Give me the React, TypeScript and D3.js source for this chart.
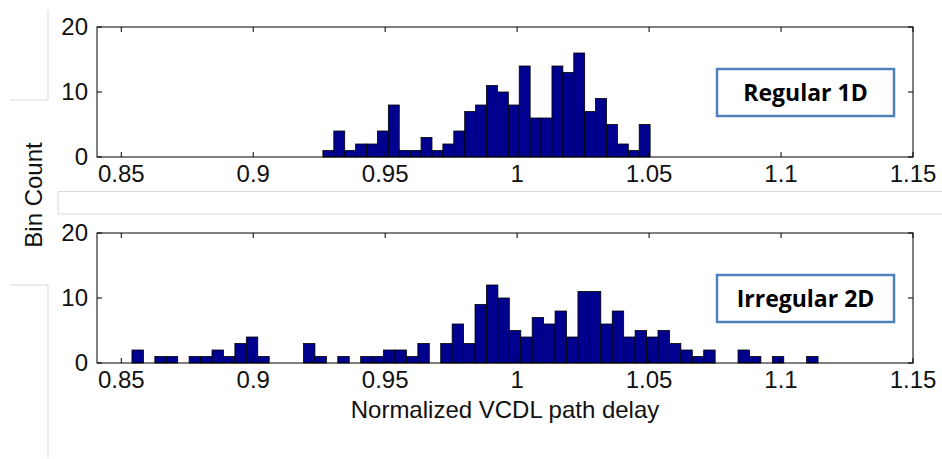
import React, { useEffect, useRef } from 'react';
import * as d3 from 'd3';

// bin counts, left to right
const regularCounts = [1, 4, 1, 2, 2, 4, 8, 1, 1, 3, 1, 2, 4, 7, 8, 11, 10, 8, 14, 6, 6, 14, 13, 16, 7, 9, 5, 2, 1, 5];
const regularStart = 0.9264;
const regularBinWidth = 0.004133;

const irregularCounts = [
  2, 0, 1, 1, 0, 1, 1, 2, 1, 3, 4, 1, 0, 0, 0, 3, 1, 0, 1, 0,
  1, 1, 2, 2, 1, 3, 0, 3, 6, 3, 9, 12, 10, 5, 4, 7, 6, 8, 4, 11,
  11, 6, 8, 4, 5, 4, 5, 3, 2, 1, 2, 0, 0, 2, 1, 0, 1, 0, 0, 1,
];
const irregularStart = 0.85405;
const irregularBinWidth = 0.004333;

const xTicks = [0.85, 0.9, 0.95, 1, 1.05, 1.1, 1.15];
const xTickLabels = ['0.85', '0.9', '0.95', '1', '1.05', '1.1', '1.15'];
const yTicks = [0, 10, 20];
const yTickLabels = ['0', '10', '20'];

const panelNames = ['Regular 1D', 'Irregular 2D'];

const W = 942;
const H = 459;
const FONT = '"Liberation Sans", Arial, Helvetica, sans-serif';

function App() {
  const ref = useRef<SVGSVGElement | null>(null);

  useEffect(() => {
    const svg = d3.select(ref.current);
    svg.selectAll('*').remove();

    const x = d3.scaleLinear().domain([0.8408, 1.15]).range([97, 913]);

    // faint slide guide lines behind the chart
    const grey = '#d9d9d9';
    const guides = [
      'M48,10V100M10,100H48',
      'M58,191.5H942M58,214H942M58,191.5V214',
      'M48,285V458M10,285H48',
    ];
    guides.forEach(d =>
      svg.append('path').attr('d', d).attr('fill', 'none').attr('stroke', grey).attr('stroke-width', 1)
    );

    const panels = [
      { counts: regularCounts, start: regularStart, bw: regularBinWidth, top: 27, bottom: 157, box: 69 },
      { counts: irregularCounts, start: irregularStart, bw: irregularBinWidth, top: 233, bottom: 363, box: 275 },
    ];

    panels.forEach((p, pi) => {
      const y = d3.scaleLinear().domain([0, 20]).range([p.bottom, p.top]);
      const g = svg.append('g');

      // keep the bin index before dropping empty bins
      const bins = p.counts
        .map((c, i) => ({ c, x0: p.start + i * p.bw, x1: p.start + (i + 1) * p.bw }))
        .filter(b => b.c > 0);

      g.selectAll('rect.bar')
        .data(bins)
        .enter()
        .append('rect')
        .attr('class', 'bar')
        .attr('x', d => x(d.x0))
        .attr('width', d => x(d.x1) - x(d.x0))
        .attr('y', d => y(d.c))
        .attr('height', d => y(0) - y(d.c))
        .attr('fill', '#00008f')
        .attr('stroke', '#000')
        .attr('stroke-width', 0.8);

      // axes box
      const x0 = x.range()[0];
      const x1 = x.range()[1];
      g.append('rect')
        .attr('x', x0)
        .attr('y', p.top)
        .attr('width', x1 - x0)
        .attr('height', p.bottom - p.top)
        .attr('fill', 'none')
        .attr('stroke', '#000')
        .attr('stroke-width', 1);

      // x ticks (inward, bottom and top)
      xTicks.forEach((t, i) => {
        const tx = x(t);
        g.append('line').attr('x1', tx).attr('x2', tx).attr('y1', p.bottom).attr('y2', p.bottom - 5).attr('stroke', '#000');
        g.append('line').attr('x1', tx).attr('x2', tx).attr('y1', p.top).attr('y2', p.top + 5).attr('stroke', '#000');
        g.append('text')
          .attr('x', tx)
          .attr('y', p.bottom + 25)
          .attr('text-anchor', 'middle')
          .attr('font-family', FONT)
          .attr('font-size', 24)
          .attr('fill', '#111')
          .text(xTickLabels[i]);
      });

      // y ticks (inward, left and right)
      yTicks.forEach((t, i) => {
        const ty = y(t);
        g.append('line').attr('x1', x0).attr('x2', x0 + 5).attr('y1', ty).attr('y2', ty).attr('stroke', '#000');
        g.append('line').attr('x1', x1).attr('x2', x1 - 5).attr('y1', ty).attr('y2', ty).attr('stroke', '#000');
        g.append('text')
          .attr('x', 88)
          .attr('y', ty)
          .attr('dy', '0.35em')
          .attr('text-anchor', 'end')
          .attr('font-family', FONT)
          .attr('font-size', 24)
          .attr('fill', '#111')
          .text(yTickLabels[i]);
      });

      // label box
      g.append('rect')
        .attr('x', 717)
        .attr('y', p.box)
        .attr('width', 177)
        .attr('height', 47)
        .attr('fill', '#fff')
        .attr('stroke', '#4f81bd')
        .attr('stroke-width', 2.5);
      g.append('text')
        .attr('x', 805.5)
        .attr('y', p.box + 32)
        .attr('text-anchor', 'middle')
        .attr('font-family', '"Open Sans", "Liberation Sans", sans-serif')
        .attr('font-weight', 'bold')
        .attr('font-size', 23)
        .attr('fill', '#000')
        .text(panelNames[pi]);
    });

    svg.append('text')
      .attr('x', 505)
      .attr('y', 418)
      .attr('text-anchor', 'middle')
      .attr('font-family', FONT)
      .attr('font-size', 24)
      .attr('fill', '#111')
      .text('Normalized VCDL path delay');

    svg.append('text')
      .attr('transform', 'translate(42,195) rotate(-90)')
      .attr('text-anchor', 'middle')
      .attr('font-family', FONT)
      .attr('font-size', 24)
      .attr('fill', '#111')
      .text('Bin Count');
  }, []);

  return (
    <svg
      ref={ref}
      width={W}
      height={H}
      style={{ position: 'absolute', left: 0, top: 0, background: '#fff' }}
    />
  );
}

export default App;
